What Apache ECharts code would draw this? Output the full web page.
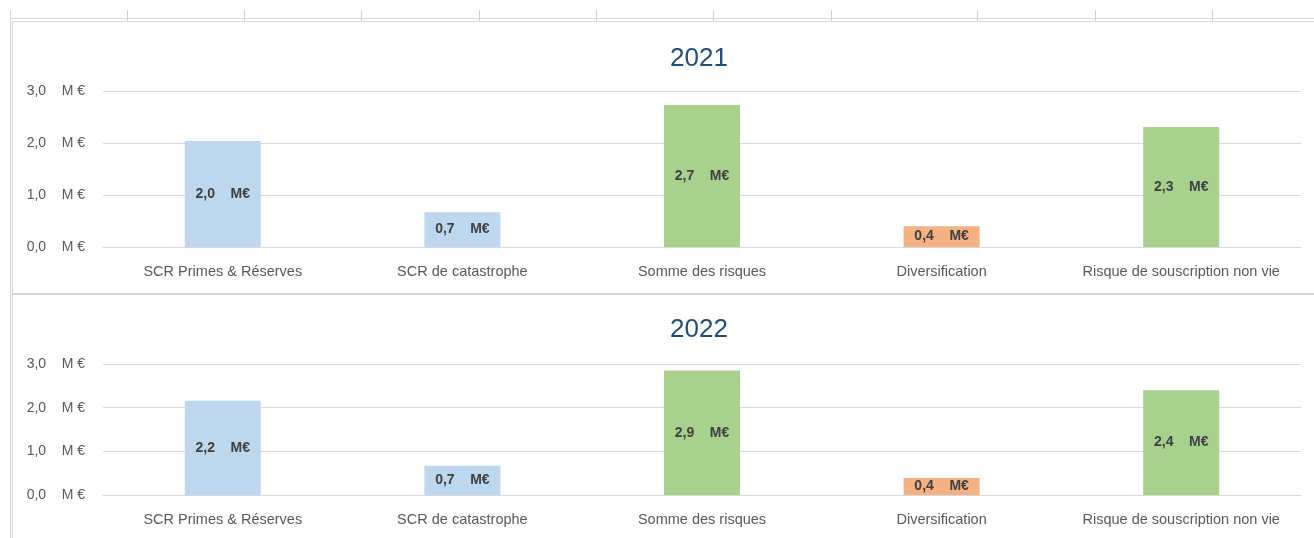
<!DOCTYPE html>
<html lang="fr">
<head>
    <meta charset="utf-8">
    <title>SCR souscription non vie</title>
    <script type="text/javascript" src="https://cdn.jsdelivr.net/npm/echarts@6/dist/echarts.min.js"></script>
    <style>
        html, body { margin: 0; padding: 0; background: #fff; }
    </style>
</head>
<body>
<div id="main" style="width: 1314px;height:538px;"></div>
<script type="text/javascript">
    // données (M€)
    var categories = ['SCR Primes & Réserves', 'SCR de catastrophe', 'Somme des risques', 'Diversification', 'Risque de souscription non vie'];
    var years = ['2021', '2022'];
    var values2021 = [2.04, 0.67, 2.73, 0.40, 2.31];
    var values2022 = [2.16, 0.67, 2.85, 0.39, 2.40];
    var yTicks = [0, 1, 2, 3];

    var barColors = ['#BDD7EE', '#BDD7EE', '#A9D18E', '#F4B183', '#A9D18E'];
    var font = 'Liberation Sans';

    function fmt(v) {
        return v.toFixed(1).replace('.', ',');
    }

    function serie(values, idx) {
        return {
            name: years[idx],
            type: 'bar',
            xAxisIndex: idx,
            yAxisIndex: idx,
            barWidth: 76,
            data: values.map(function (v, i) {
                return { value: v, itemStyle: { color: barColors[i] } };
            }),
            label: {
                show: true,
                position: 'inside',
                fontFamily: font,
                fontSize: 14,
                fontWeight: 'bold',
                color: '#404040',
                formatter: function (p) { return fmt(p.value) + '    M€'; }
            }
        };
    }

    function xAxis(idx) {
        return {
            type: 'category',
            gridIndex: idx,
            data: categories,
            axisTick: { show: false },
            axisLine: { lineStyle: { color: '#d9d9d9', width: 1 } },
            axisLabel: { interval: 0, fontFamily: font, fontSize: 14.5, color: '#595959', margin: 17 }
        };
    }

    function yAxis(idx) {
        return {
            type: 'value',
            gridIndex: idx,
            min: yTicks[0],
            max: yTicks[yTicks.length - 1],
            interval: 1,
            splitLine: { lineStyle: { color: '#d9d9d9', width: 1 } },
            axisLabel: {
                fontFamily: font, fontSize: 14, color: '#595959', margin: 18,
                formatter: function (v) { return fmt(v) + '    M €'; }
            }
        };
    }

    // décor feuille Excel
    var sheetLines = [];
    [10, 127, 244, 361, 479, 596, 713, 831, 977, 1095, 1212].forEach(function (x) {
        sheetLines.push({ type: 'line', shape: { x1: x + 0.5, y1: 10, x2: x + 0.5, y2: 21 }, style: { stroke: '#d0d0d0', lineWidth: 1 } });
    });
    sheetLines.push({ type: 'line', shape: { x1: 10, y1: 18.5, x2: 1314, y2: 18.5 }, style: { stroke: '#d6d6d6', lineWidth: 1 } });
    sheetLines.push({ type: 'line', shape: { x1: 12, y1: 21.5, x2: 1314, y2: 21.5 }, style: { stroke: '#d6d6d6', lineWidth: 1 } });
    sheetLines.push({ type: 'line', shape: { x1: 10.5, y1: 10, x2: 10.5, y2: 538 }, style: { stroke: '#d6d6d6', lineWidth: 1 } });
    sheetLines.push({ type: 'line', shape: { x1: 12.5, y1: 21, x2: 12.5, y2: 538 }, style: { stroke: '#d6d6d6', lineWidth: 1 } });
    sheetLines.push({ type: 'line', shape: { x1: 12, y1: 294, x2: 1314, y2: 294 }, style: { stroke: '#d6d6d6', lineWidth: 2 } });

    var myChart = echarts.init(document.getElementById('main'));

    var option = {
        animation: false,
        title: [
            { text: years[0], left: 694, top: 41, textAlign: 'center', textStyle: { fontFamily: font, fontSize: 26, fontWeight: 'normal', color: '#1F4E79' } },
            { text: years[1], left: 694, top: 312, textAlign: 'center', textStyle: { fontFamily: font, fontSize: 26, fontWeight: 'normal', color: '#1F4E79' } }
        ],
        graphic: sheetLines,
        grid: [
            { left: 103, right: 13, top: 91, height: 156 },
            { left: 103, right: 13, top: 364, height: 131 }
        ],
        xAxis: [xAxis(0), xAxis(1)],
        yAxis: [yAxis(0), yAxis(1)],
        series: [serie(values2021, 0), serie(values2022, 1)]
    };

    myChart.setOption(option);
</script>
</body>
</html>
